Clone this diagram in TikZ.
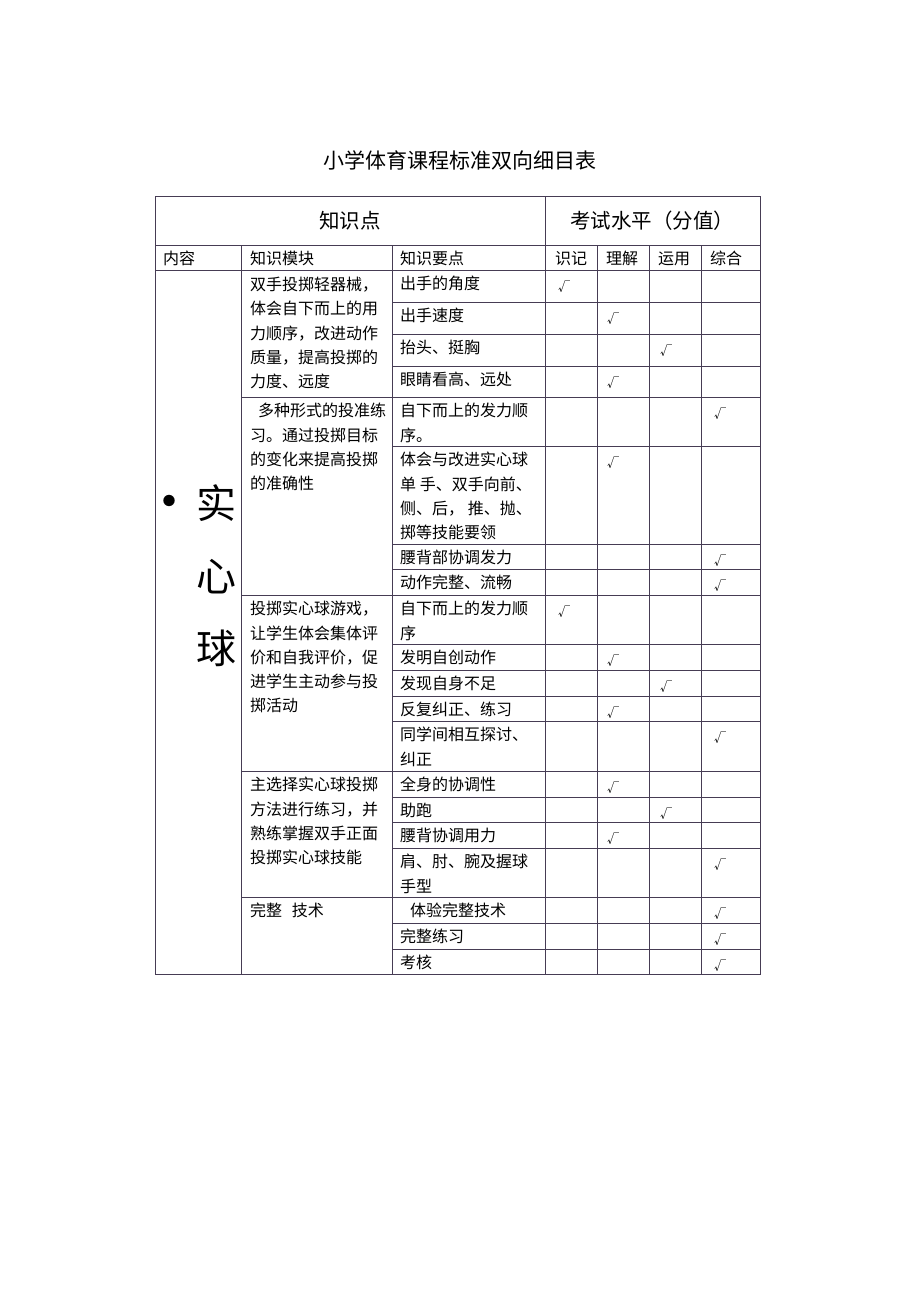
\documentclass[tikz,border=0pt]{standalone}
\usepackage{fontspec}
\setmainfont{Noto Sans CJK SC}
\definecolor{gridline}{RGB}{70,60,84}
\tikzset{
  rule/.style={draw=gridline, line width=0.9pt},
  cell/.style={anchor=north west, inner sep=0pt, align=left,
    font=\fontsize{16}{24.3}\selectfont, execute at begin node=\strut},
  sub/.style={anchor=base west, inner sep=0pt, font=\fontsize{16}{20}\selectfont},
  head/.style={inner sep=0pt, font=\fontsize{20.5}{24}\selectfont},
  chk/.style={anchor=base, inner sep=0pt, font=\fontsize{12}{15}\selectfont},
}
\begin{document}
\begin{tikzpicture}[x=1pt, y=-1pt]
    \useasboundingbox (0,0) rectangle (920,1302);

    \node[font=\fontsize{21}{24}\selectfont] (title) at (460,160) {小学体育课程标准双向细目表};

    % frame and header rows
    \draw[rule] (155,196) rectangle (760,974);
    \draw[rule] (155,245) -- (760,245);
    \draw[rule] (155,270) -- (760,270);
    \draw[rule] (545,196) -- (545,974);
    \draw[rule] (241,245) -- (241,974);
    \draw[rule] (392,245) -- (392,974);
    \draw[rule] (597,245) -- (597,974);
    \draw[rule] (649,245) -- (649,974);
    \draw[rule] (701,245) -- (701,974);

    % module rows
    \draw[rule] (241,397) -- (760,397);
    \draw[rule] (241,595) -- (760,595);
    \draw[rule] (241,771) -- (760,771);
    \draw[rule] (241,897) -- (760,897);

    % point rows
    \draw[rule] (392,302) -- (760,302);
    \draw[rule] (392,334) -- (760,334);
    \draw[rule] (392,366) -- (760,366);
    \draw[rule] (392,446) -- (760,446);
    \draw[rule] (392,544) -- (760,544);
    \draw[rule] (392,569) -- (760,569);
    \draw[rule] (392,644) -- (760,644);
    \draw[rule] (392,670) -- (760,670);
    \draw[rule] (392,696) -- (760,696);
    \draw[rule] (392,721) -- (760,721);
    \draw[rule] (392,797) -- (760,797);
    \draw[rule] (392,822) -- (760,822);
    \draw[rule] (392,848) -- (760,848);
    \draw[rule] (392,923) -- (760,923);
    \draw[rule] (392,949) -- (760,949);

    \node[head] (know) at (350,221) {知识点};
    \node[head] (level) at (652,221) {考试水平（分值）};

    \node[sub] (h_content) at (163,264) {内容};
    \node[sub] (h_module) at (250,264) {知识模块};
    \node[sub] (h_point) at (400,264) {知识要点};
    \node[sub] (h_recall) at (555,264) {识记};
    \node[sub] (h_grasp) at (606,264) {理解};
    \node[sub] (h_apply) at (658,264) {运用};
    \node[sub] (h_synth) at (710,264) {综合};

    \node[font=\fontsize{54}{20}\selectfont, inner sep=0pt] (dot) at (169,508) {•};
    \node[align=center, inner sep=0pt, font=\fontsize{40}{72.5}\selectfont] (ball) at (216,576) {实\\心\\球};

    \node[cell] (m1) at (250,277) {双手投掷轻器械，\\体会自下而上的用\\力顺序，改进动作\\质量，提高投掷的\\力度、远度};
    \node[cell] (m2) at (250,403) {\hspace*{8pt}多种形式的投准练\\习。通过投掷目标\\的变化来提高投掷\\的准确性};
    \node[cell] (m3) at (250,601) {投掷实心球游戏，\\让学生体会集体评\\价和自我评价，促\\进学生主动参与投\\掷活动};
    \node[cell] (m4) at (250,777) {主选择实心球投掷\\方法进行练习，并\\熟练掌握双手正面\\投掷实心球技能};
    \node[cell] (m5) at (250,899) {完整\hspace{6pt} 技术};

    \node[cell] (p1) at (400,272) {出手的角度};
    \node[cell] (p2) at (400,304) {出手速度};
    \node[cell] (p3) at (400,336) {抬头、挺胸};
    \node[cell] (p4) at (400,368) {眼睛看高、远处};
    \node[cell] (p5) at (400,403) {自下而上的发力顺\\序。};
    \node[cell] (p6) at (400,452) {体会与改进实心球\\单 手、双手向前、\\侧、后， 推、抛、\\掷等技能要领};
    \node[cell] (p7) at (400,546) {腰背部协调发力};
    \node[cell] (p8) at (400,571) {动作完整、流畅};
    \node[cell] (p9) at (400,601) {自下而上的发力顺\\序};
    \node[cell] (p10) at (400,646) {发明自创动作};
    \node[cell] (p11) at (400,672) {发现自身不足};
    \node[cell] (p12) at (400,698) {反复纠正、练习};
    \node[cell] (p13) at (400,727) {同学间相互探讨、\\纠正};
    \node[cell] (p14) at (400,773) {全身的协调性};
    \node[cell] (p15) at (400,799) {助跑};
    \node[cell] (p16) at (400,824) {腰背协调用力};
    \node[cell] (p17) at (400,854) {肩、肘、腕及握球\\手型};
    \node[cell] (p18) at (410,899) {体验完整技术};
    \node[cell] (p19) at (400,925) {完整练习};
    \node[cell] (p20) at (400,951) {考核};

    % ticks: 564 recall, 613 grasp, 666 apply, 720 synth
    \node[chk] (c1) at (564,291) {√};
    \node[chk] (c2) at (613,323) {√};
    \node[chk] (c3) at (666,355) {√};
    \node[chk] (c4) at (613,387) {√};
    \node[chk] (c5) at (720,418) {√};
    \node[chk] (c6) at (613,467) {√};
    \node[chk] (c7) at (720,565) {√};
    \node[chk] (c8) at (720,590) {√};
    \node[chk] (c9) at (564,616) {√};
    \node[chk] (c10) at (613,665) {√};
    \node[chk] (c11) at (666,691) {√};
    \node[chk] (c12) at (613,717) {√};
    \node[chk] (c13) at (720,742) {√};
    \node[chk] (c14) at (613,792) {√};
    \node[chk] (c15) at (666,818) {√};
    \node[chk] (c16) at (613,843) {√};
    \node[chk] (c17) at (720,869) {√};
    \node[chk] (c18) at (720,918) {√};
    \node[chk] (c19) at (720,944) {√};
    \node[chk] (c20) at (720,970) {√};
\end{tikzpicture}
\end{document}
